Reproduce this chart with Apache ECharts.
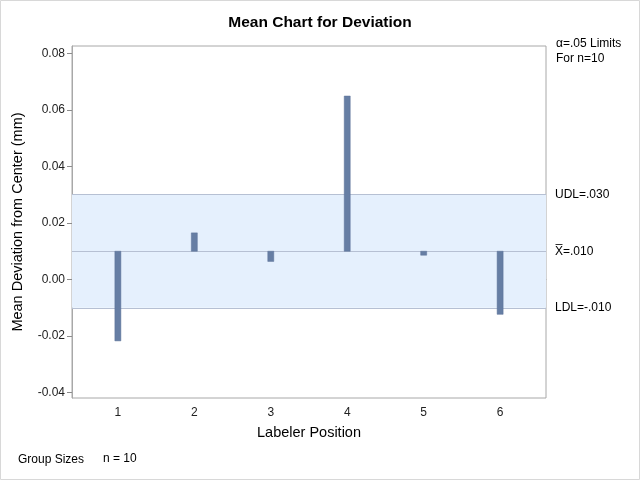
<!DOCTYPE html>
<html>
<head>
<meta charset="utf-8">
<script src="https://cdn.jsdelivr.net/npm/echarts@6/dist/echarts.min.js"></script>
<style>
html,body{margin:0;padding:0;background:#fff;}
#chart{width:640px;height:480px;}
</style>
</head>
<body>
<div id="chart"></div>
<script>
// Data
const positions = [1, 2, 3, 4, 5, 6];
const means = [-0.0217, 0.0165, 0.0064, 0.0649, 0.0086, -0.0123];
const centerValue = 0.010;
const udlValue = 0.030;
const ldlValue = -0.010;
const yTicks = [-0.04, -0.02, 0.00, 0.02, 0.04, 0.06, 0.08];
const xTicks = [1, 2, 3, 4, 5, 6];
const groupSizeText = 'n = 10';

const FONT = '"Liberation Sans", Arial, sans-serif';
const chart = echarts.init(document.getElementById('chart'), null, {renderer: 'canvas'});

const barData = positions.map((p, i) => [p, means[i]]);

chart.setOption({
  animation: false,
  backgroundColor: '#fff',
  textStyle: {fontFamily: FONT},
  title: {
    text: 'Mean Chart for Deviation',
    left: 'center', top: 10,
    textStyle: {fontFamily: FONT, fontSize: 15.5, fontWeight: 'bold', color: '#000'}
  },
  grid: {
    left: 72, right: 94, top: 46, bottom: 82,
    show: true, borderColor: '#a8a8a8', borderWidth: 1, backgroundColor: 'transparent'
  },
  xAxis: {
    type: 'value', min: 0.4, max: 6.6,
    name: 'Labeler Position', nameLocation: 'middle', nameGap: 27,
    nameTextStyle: {fontFamily: FONT, fontSize: 14.5, color: '#000'},
    axisLine: {show: true, lineStyle: {color: '#a8a8a8'}},
    axisTick: {show: true, customValues: xTicks, length: 5, lineStyle: {color: '#8c8c8c'}},
    axisLabel: {customValues: xTicks, fontFamily: FONT, fontSize: 12, color: '#222', margin: 9,
      formatter: v => String(v)},
    splitLine: {show: false}
  },
  yAxis: {
    type: 'value', min: -0.0419, max: 0.0826,
    name: 'Mean Deviation from Center (mm)', nameLocation: 'middle', nameGap: 47,
    nameTextStyle: {fontFamily: FONT, fontSize: 14.5, color: '#000'},
    axisLine: {show: true, lineStyle: {color: '#a8a8a8'}},
    axisTick: {show: true, customValues: yTicks, length: 5, lineStyle: {color: '#8c8c8c'}},
    axisLabel: {customValues: yTicks, fontFamily: FONT, fontSize: 12, color: '#222', margin: 7,
      formatter: v => v.toFixed(2)},
    splitLine: {show: false}
  },
  series: [{
    type: 'custom',
    data: barData,
    z: 5,
    renderItem: function (params, api) {
      const x = api.value(0), v = api.value(1);
      const p1 = api.coord([x, centerValue]);
      const p2 = api.coord([x, v]);
      const w = 6;
      return {
        type: 'rect',
        shape: {x: p1[0] - w / 2, y: Math.min(p1[1], p2[1]), width: w, height: Math.abs(p2[1] - p1[1])},
        style: {fill: '#667ea4', stroke: '#5b7196', lineWidth: 0.5}
      };
    },
    markArea: {
      silent: true,
      itemStyle: {color: '#e5f0fd'},
      data: [[{yAxis: ldlValue}, {yAxis: udlValue}]]
    },
    markLine: {
      silent: true, symbol: 'none',
      lineStyle: {color: '#b6c0d3', width: 1, type: 'solid'},
      label: {position: 'end', distance: 9, fontFamily: FONT, fontSize: 12, color: '#000'},
      data: [
        {yAxis: udlValue, label: {formatter: 'UDL=.030'}},
        {yAxis: centerValue, label: {formatter: 'X\u0305=.010'}},
        {yAxis: ldlValue, label: {formatter: 'LDL=-.010'}}
      ]
    }
  }],
  graphic: [
    {type: 'rect', shape: {x: 0.5, y: 0.5, width: 639, height: 479}, style: {fill: 'none', stroke: '#d8d8d8', lineWidth: 1}},
    {type: 'text', left: 556, top: 38, style: {text: '\u03b1=.05 Limits', font: '12px ' + FONT, fill: '#000'}},
    {type: 'text', left: 556, top: 53, style: {text: 'For n=10', font: '12px ' + FONT, fill: '#000'}},
    {type: 'text', left: 18, top: 454, style: {text: 'Group Sizes', font: '12px ' + FONT, fill: '#000'}},
    {type: 'text', left: 103, top: 453, style: {text: groupSizeText, font: '12px ' + FONT, fill: '#000'}}
  ]
});
</script>
</body>
</html>
